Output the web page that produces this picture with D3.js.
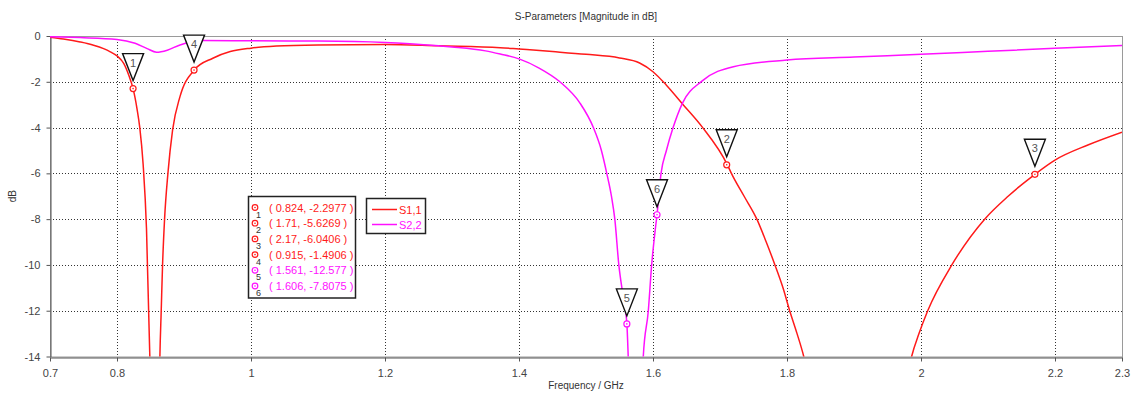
<!DOCTYPE html>
<html>
<head>
<meta charset="utf-8">
<script src="https://cdn.jsdelivr.net/npm/d3@7"></script>
<style>
  html, body { margin: 0; padding: 0; background: #fff; }
  svg { display: block; font-family: "Liberation Sans", Arial, sans-serif; }
</style>
</head>
<body>
<svg id="chart" width="1132" height="396"></svg>
<script>
// S1,1 magnitude (dB) vs frequency (GHz)
const s11Freq = [0.70, 0.72, 0.745, 0.765, 0.78, 0.79, 0.80, 0.81, 0.818, 0.824, 0.830, 0.834, 0.839, 0.844, 0.849, 0.853, 0.857, 0.861, 0.864, 0.866, 0.868, 0.871, 0.876, 0.883, 0.894, 0.915, 0.943, 0.969, 1.00, 1.038, 1.10, 1.20, 1.28, 1.372, 1.40, 1.45, 1.50, 1.55, 1.58, 1.60, 1.62, 1.645, 1.673, 1.711, 1.717, 1.736, 1.755, 1.769, 1.782, 1.794, 1.804, 1.815, 1.825, 1.85, 1.90, 1.95, 1.986, 1.997, 2.010, 2.046, 2.095, 2.13, 2.17, 2.20, 2.25, 2.30];
const s11Val  = [-0.05, -0.13, -0.26, -0.4, -0.55, -0.69, -0.87, -1.2, -1.75, -2.2977, -3.2, -4.0, -5.6, -8.4, -14, -20, -28, -20, -14, -12, -10, -8, -6, -4.1, -2.65, -1.4906, -0.97, -0.68, -0.53, -0.44, -0.39, -0.37, -0.43, -0.51, -0.57, -0.68, -0.80, -0.96, -1.18, -1.56, -2.15, -3.0, -3.96, -5.6269, -6.0, -7.0, -8.0, -9.0, -10.0, -11.0, -12.0, -13.0, -14.0, -18, -30, -22, -14.0, -13.0, -12.0, -10.0, -8.0, -7.0, -6.0406, -5.42, -4.75, -4.2];

// S2,2 magnitude (dB) vs frequency (GHz)
const s22Freq = [0.70, 0.745, 0.80, 0.827, 0.845, 0.859, 0.875, 0.894, 0.928, 1.00, 1.10, 1.20, 1.28, 1.30, 1.35, 1.372, 1.40, 1.43, 1.461, 1.491, 1.511, 1.523, 1.531, 1.538, 1.543, 1.549, 1.555, 1.561, 1.563, 1.570, 1.578, 1.5855, 1.593, 1.598, 1.604, 1.606, 1.612, 1.620, 1.630, 1.644, 1.673, 1.72, 1.80, 1.90, 2.00, 2.10, 2.20, 2.30];
const s22Val  = [-0.03, -0.07, -0.15, -0.32, -0.55, -0.71, -0.62, -0.39, -0.20, -0.21, -0.22, -0.28, -0.43, -0.48, -0.65, -0.79, -1.0, -1.4, -2.0, -2.93, -4.0, -5.0, -6.0, -7.0, -8.0, -10.0, -11.3, -12.577, -14, -22, -25, -14, -12, -10, -8.3, -7.8075, -6.0, -5.0, -4.0, -2.93, -1.97, -1.34, -1.05, -0.92, -0.80, -0.67, -0.54, -0.42];

// Marker readouts
const markerIds   = [1, 2, 3, 4, 5, 6];
const markerFreq  = [0.824, 1.71, 2.17, 0.915, 1.561, 1.606];
const markerVal   = [-2.2977, -5.6269, -6.0406, -1.4906, -12.577, -7.8075];
const markerSeries = ["S1,1", "S1,1", "S1,1", "S1,1", "S2,2", "S2,2"];

const xTicks = [0.7, 0.8, 1, 1.2, 1.4, 1.6, 1.8, 2, 2.2, 2.3];
const yTicks = [0, -2, -4, -6, -8, -10, -12, -14];
const seriesNames = ["S1,1", "S2,2"];
const seriesColor = { "S1,1": "#ff1a1a", "S2,2": "#ff10ff" };

const svg = d3.select("#chart");
const pL = 50, pR = 1122, pT = 36, pB = 356.5;

const x = d3.scaleLinear().domain([0.7, 2.3]).range([pL, pR]);
const y = d3.scaleLinear().domain([0, -14]).range([pT, pB]);

// title
svg.append("text").attr("x", (pL + pR) / 2).attr("y", 20)
  .attr("text-anchor", "middle").attr("font-size", 10).attr("fill", "#333")
  .text("S-Parameters [Magnitude in dB]");

// grid
const grid = svg.append("g").attr("stroke", "#333").attr("stroke-width", 1)
  .attr("stroke-dasharray", "1,2");
xTicks.filter(t => t > 0.7 && t < 2.3).forEach(t => {
  grid.append("line").attr("x1", Math.round(x(t)) + 0.5).attr("x2", Math.round(x(t)) + 0.5)
    .attr("y1", pT).attr("y2", pB);
});
yTicks.filter(t => t < 0 && t > -14).forEach(t => {
  grid.append("line").attr("y1", Math.round(y(t)) + 0.5).attr("y2", Math.round(y(t)) + 0.5)
    .attr("x1", pL).attr("x2", pR);
});

// frame
svg.append("rect").attr("x", pL + 0.5).attr("y", pT + 0.5)
  .attr("width", pR - pL).attr("height", pB - pT)
  .attr("fill", "none").attr("stroke", "#9a9a9a");

// axes
const fmt = d => String(d);
const xAxis = svg.append("g").attr("transform", `translate(0,${Math.round(pB) + 0.5})`)
  .call(d3.axisBottom(x).tickValues(xTicks).tickFormat(fmt).tickSize(4).tickSizeOuter(0));
const yAxis = svg.append("g").attr("transform", `translate(${pL + 0.5},0)`)
  .call(d3.axisLeft(y).tickValues(yTicks).tickFormat(fmt).tickSize(4).tickSizeOuter(0));
[xAxis, yAxis].forEach(a => {
  a.select(".domain").attr("stroke", "#555");
  a.selectAll(".tick line").attr("stroke", "#555");
  a.selectAll(".tick text").attr("fill", "#444").attr("font-size", 11)
    .attr("font-family", "'Liberation Sans', Arial, sans-serif");
});
xAxis.selectAll(".tick text").attr("dy", "1.15em");
yAxis.selectAll(".tick text").attr("dx", "-3px");

svg.append("text").attr("x", (pL + pR) / 2).attr("y", 389)
  .attr("text-anchor", "middle").attr("font-size", 10).attr("fill", "#333")
  .text("Frequency / GHz");
svg.append("text").attr("transform", `translate(16,${(pT + pB) / 2}) rotate(-90)`)
  .attr("text-anchor", "middle").attr("font-size", 10).attr("fill", "#333").text("dB");

// curves
svg.append("clipPath").attr("id", "plotclip").append("rect")
  .attr("x", pL).attr("y", pT).attr("width", pR - pL).attr("height", pB - pT);
const line = d3.line().x(d => x(d[0])).y(d => y(d[1])).curve(d3.curveMonotoneX);
const curves = svg.append("g").attr("clip-path", "url(#plotclip)");
const seriesData = {
  "S1,1": d3.zip(s11Freq, s11Val),
  "S2,2": d3.zip(s22Freq, s22Val)
};
seriesNames.forEach(n => {
  curves.append("path").attr("d", line(seriesData[n])).attr("fill", "none")
    .attr("stroke", seriesColor[n]).attr("stroke-width", 1.5);
});

// markers with flags
const markers = markerIds.map((id, i) => ({ id, f: markerFreq[i], v: markerVal[i], s: markerSeries[i] }));
const mg = svg.append("g");
markers.forEach(m => {
  const px = x(m.f), py = y(m.v);
  mg.append("path")
    .attr("d", `M${px - 10.5},${py - 35}L${px + 10.5},${py - 35}L${px},${py - 8}Z`)
    .attr("fill", "#fff").attr("stroke", "#111").attr("stroke-width", 1.4);
  mg.append("text").attr("x", px).attr("y", py - 22).attr("text-anchor", "middle")
    .attr("font-size", 11).attr("fill", "#555").text(m.id);
  mg.append("circle").attr("cx", px).attr("cy", py).attr("r", 3)
    .attr("fill", "#fff").attr("stroke", seriesColor[m.s]).attr("stroke-width", 1.2);
  mg.append("circle").attr("cx", px).attr("cy", py).attr("r", 0.8).attr("fill", seriesColor[m.s]);
});

// marker readout table
const tb = svg.append("g");
tb.append("rect").attr("x", 248.5).attr("y", 196.5).attr("width", 107).attr("height", 101.5)
  .attr("fill", "#fff").attr("stroke", "#222").attr("stroke-width", 1.5);
markers.forEach((m, i) => {
  const ry = 207.5 + i * 15.7;
  tb.append("circle").attr("cx", 255).attr("cy", ry).attr("r", 2.8)
    .attr("fill", "#fff").attr("stroke", seriesColor[m.s]).attr("stroke-width", 1.2);
  tb.append("circle").attr("cx", 255).attr("cy", ry).attr("r", 0.8).attr("fill", seriesColor[m.s]);
  tb.append("text").attr("x", 256).attr("y", ry + 10).attr("font-size", 9).attr("fill", "#333").text(m.id);
  tb.append("text").attr("x", 269).attr("y", ry + 4).attr("font-size", 11)
    .attr("fill", seriesColor[m.s]).text(`( ${m.f}, ${m.v} )`);
});

// legend
const lg = svg.append("g");
lg.append("rect").attr("x", 366.5).attr("y", 198.5).attr("width", 59).attr("height", 35)
  .attr("fill", "#fff").attr("stroke", "#222").attr("stroke-width", 1.5);
seriesNames.forEach((n, i) => {
  const ly = 209.5 + i * 15;
  lg.append("line").attr("x1", 372).attr("x2", 397).attr("y1", ly).attr("y2", ly)
    .attr("stroke", seriesColor[n]).attr("stroke-width", 1.5);
  lg.append("text").attr("x", 399).attr("y", ly + 4).attr("font-size", 11)
    .attr("fill", seriesColor[n]).text(n);
});
</script>
</body>
</html>
